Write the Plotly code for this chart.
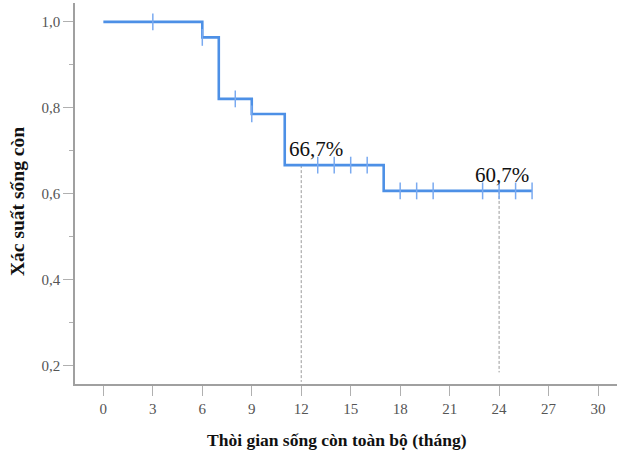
import plotly.graph_objects as go

# Kaplan-Meier step data
event_times = [0, 6, 7, 9, 11, 17, 26]
survival = [1.0, 0.964, 0.821, 0.786, 0.667, 0.607, 0.607]

# censored observations (months)
censor_times = [3, 6, 8, 9, 13, 14, 15, 16, 18, 19, 20, 23, 24, 25, 26]

# reference lines / labels
ref_times = [12, 24]
ref_surv = [0.667, 0.607]
ref_labels = ["66,7%", "60,7%"]
ref_bottom = [0.163, 0.185]

x_ticks = list(range(0, 31, 3))
y_ticks = [0.2, 0.4, 0.6, 0.8, 1.0]
y_tick_labels = ["0,2", "0,4", "0,6", "0,8", "1,0"]
y_minor = [0.3, 0.5, 0.7, 0.9]

x_title = "Thòi gian sống còn toàn bộ (tháng)"
y_title = "Xác suất sống còn"


def surv_at(t):
    s = survival[0]
    for et, sv in zip(event_times, survival):
        if et <= t:
            s = sv
    return s


censor_surv = [surv_at(t) for t in censor_times]

BLUE = "#4d90e6"
SERIF = "Liberation Serif"

fig = go.Figure()

for t, s, b in zip(ref_times, ref_surv, ref_bottom):
    fig.add_trace(go.Scatter(
        x=[t, t], y=[s, b], mode="lines",
        line=dict(color="#9a9a9a", width=1, dash="3px,2px"),
        hoverinfo="skip", showlegend=False))

fig.add_trace(go.Scatter(
    x=event_times, y=survival, mode="lines", line_shape="hv",
    line=dict(color=BLUE, width=2.6), showlegend=False))

fig.add_trace(go.Scatter(
    x=censor_times, y=censor_surv, mode="markers",
    marker=dict(symbol="line-ns-open", size=12, color="#7aaaf0",
                line=dict(color="#7aaaf0", width=1.5)),
    showlegend=False))

for t, s, lab, dx in zip(ref_times, ref_surv, ref_labels, [0.9, 0.2]):
    fig.add_annotation(x=t + dx, y=s, text=lab, showarrow=False,
                       yanchor="bottom", yshift=2,
                       font=dict(family=SERIF, size=21, color="#111111"))

# axis titles as annotations (positioned like the original)
fig.add_annotation(xref="paper", yref="paper", x=0.4843, y=-0.147,
                   text="<b>" + x_title + "</b>", showarrow=False,
                   xanchor="center", yanchor="middle",
                   font=dict(family=SERIF, size=17.5, color="#111111"))
fig.add_annotation(xref="paper", yref="paper", x=-0.105, y=0.478,
                   text="<b>" + y_title + "</b>", showarrow=False,
                   textangle=-90, xanchor="center", yanchor="middle",
                   font=dict(family=SERIF, size=19.5, color="#111111"))

fig.update_layout(
    width=617, height=453,
    margin=dict(l=75, r=0, t=3, b=69),
    plot_bgcolor="white", paper_bgcolor="white",
    xaxis=dict(
        range=[-1.72, 31.15], tickvals=x_ticks, ticks="outside", ticklen=10,
        tickcolor="#b0b0b0", showgrid=False, zeroline=False, automargin=False,
        showline=True, linecolor="#a0a0a0", linewidth=1.5,
        tickfont=dict(family=SERIF, size=15, color="#555555"),
    ),
    yaxis=dict(
        range=[0.158, 1.044], tickvals=y_ticks, ticktext=y_tick_labels,
        ticks="outside", ticklen=10, tickcolor="#b0b0b0",
        showgrid=False, zeroline=False, automargin=False,
        showline=True, linecolor="#a0a0a0", linewidth=1.5,
        tickfont=dict(family=SERIF, size=15, color="#555555"),
        minor=dict(tickvals=y_minor, ticks="outside", ticklen=4,
                   tickcolor="#b0b0b0", showgrid=False),
    ),
)

fig.write_html("out.html", config={"displayModeBar": False},
               post_script="document.body.style.margin='0';")
